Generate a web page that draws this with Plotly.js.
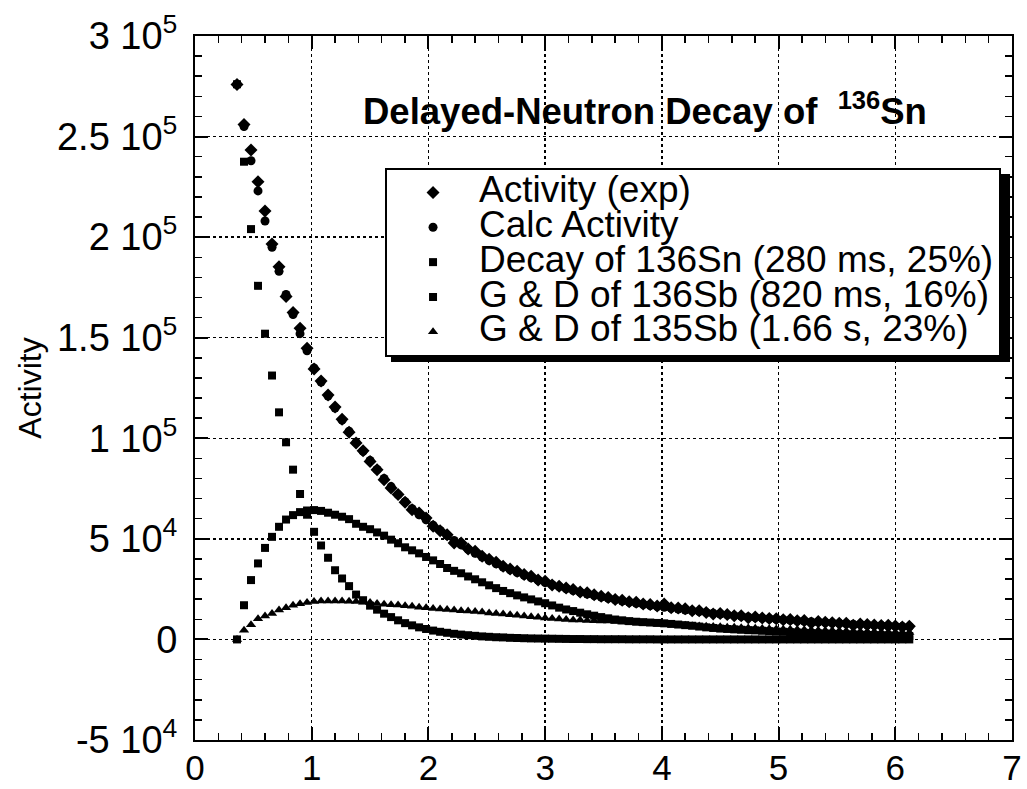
<!DOCTYPE html>
<html>
<head>
<meta charset="utf-8">
<script src="https://cdn.plot.ly/plotly-3.0.1.min.js"></script>
<style>html,body{margin:0;padding:0;background:#fff;}#chart{width:1027px;height:789px;}</style>
</head>
<body>
<div id="chart"></div>
<script>
// time (s)
var time = [0.36,0.42,0.48,0.54,0.60,0.66,0.72,0.78,0.84,0.90,0.96,1.02,1.08,1.14,1.20,1.26,1.32,1.38,1.44,1.50,
1.56,1.62,1.68,1.74,1.80,1.86,1.92,1.98,2.04,2.10,2.16,2.22,2.28,2.34,2.40,2.46,2.52,2.58,2.64,2.70,
2.76,2.82,2.88,2.94,3.00,3.06,3.12,3.18,3.24,3.30,3.36,3.42,3.48,3.54,3.60,3.66,3.72,3.78,3.84,3.90,
3.96,4.02,4.08,4.14,4.20,4.26,4.32,4.38,4.44,4.50,4.56,4.62,4.68,4.74,4.80,4.86,4.92,4.98,5.04,5.10,
5.16,5.22,5.28,5.34,5.40,5.46,5.52,5.58,5.64,5.70,5.76,5.82,5.88,5.94,6.00,6.06,6.12];

var activityExp = [275900,256000,243300,227500,213000,196600,185300,170500,162500,154700,144800,134500,128500,121500,115500,109500,103000,97600,93800,88500,
84400,79400,75300,72000,68200,64500,62900,60400,56300,54000,52100,48000,48000,45000,43800,41400,39800,38400,36400,35000,
33900,32300,31400,29600,28900,27000,26500,25600,24800,23600,23200,22200,21500,20800,19900,19500,18700,18500,17600,17400,
16600,17600,15800,15600,15200,14300,14200,13400,12700,12900,12400,11800,11800,10800,11200,10700,10400,10300,9800,9900,
9300,9400,8200,8900,8600,8300,8100,8000,7100,7700,7400,7200,6900,7000,6700,6200,6600];

var activityCalc = [276000,255000,238000,223000,208000,195000,183000,171500,161500,152000,143500,135000,128000,121000,115000,109000,103500,98000,93500,89000,
84500,80000,76000,72000,68500,65000,62000,59500,56800,54200,51600,49200,47000,44800,42800,41000,39200,37600,36000,34600,
33200,31900,30600,29400,28300,27200,26200,25200,24300,23400,22600,21800,21100,20400,19700,19100,18500,17900,17300,16800,
16300,16000,15500,15100,14600,14200,13800,13400,13000,12600,12200,11800,11500,11200,10900,10600,10300,10000,9800,9500,
9300,9000,8800,8600,8400,8200,8000,7800,7600,7400,7200,7000,6900,6700,6600,6400,6300];

var decaySn136 = [276000,237500,204000,175800,152000,131200,112900,98000,84400,72300,62000,53500,46700,40600,34400,30300,26500,22300,19500,16800,
14800,12800,11100,9500,8100,7000,6000,5200,4400,3800,3300,2800,2400,2100,1800,1500,1300,1100,1000,800,
700,600,500,450,400,350,300,250,200,200,150,150,100,100,100,100,50,50,50,50,
0,0,0,0,0,0,0,0,0,0,0,0,0,0,0,0,0,0,0,0,
0,0,0,0,0,0,0,0,0,0,0,0,0,0,0,0,0];

var gdSb136 = [0,17000,29500,37800,45500,51000,56000,59600,61800,63300,64100,64300,63900,63000,62000,61000,59800,57500,56000,54800,
53200,51600,49600,47800,45800,44300,42800,41000,39300,37500,35500,34100,32900,31300,29900,28400,26900,25500,24100,23000,
21900,20900,19900,18900,18000,16900,15800,14900,14100,13300,12500,11800,11100,10500,9900,9500,9100,8800,8600,8400,
8200,8000,7700,7400,7100,6800,6400,6000,5700,5400,5200,5000,4800,4600,4500,4300,4100,3900,3800,3600,
3400,3300,3100,3000,2900,2800,2600,2500,2400,2300,2200,2100,2000,1900,1800,1800,1700];

var gdSb135 = [0,4600,7300,10300,11700,12900,14600,15800,17000,17800,18400,18800,19100,19100,19100,19100,19000,18800,18500,18300,
17900,17500,17300,17100,16800,16500,16000,15700,15400,15100,14900,14600,14300,14100,13900,13600,13200,12900,12600,12300,
12000,11600,11300,11000,10600,10400,10100,9900,9700,9600,9400,9300,9200,9100,8900,8700,8500,8300,8100,7900,
7700,7500,7300,7100,7000,6800,6700,6500,6400,6300,6100,6000,5800,5700,5600,5400,5300,5200,5100,5000,
4900,4800,4700,4600,4500,4400,4300,4200,4100,4000,3900,3800,3700,3700,3600,3500,3400];

var seriesNames = ['Activity (exp)','Calc Activity','Decay of 136Sn (280 ms, 25%)','G & D of 136Sb (820 ms, 16%)','G & D of 135Sb (1.66 s, 23%)'];
var yTickVals = [-50000,0,50000,100000,150000,200000,250000,300000];
var yTickText = ['-5 10<sup>4</sup>','0','5 10<sup>4</sup>','1 10<sup>5</sup>','1.5 10<sup>5</sup>','2 10<sup>5</sup>','2.5 10<sup>5</sup>','3 10<sup>5</sup>'];

var FONT = 'Liberation Sans, Arial, Helvetica, sans-serif';
function lg(s){ return '<span style="font-size:37px">' + s + '</span>'; }

var traces = [
  {x: time, y: activityExp, name: lg(seriesNames[0]), mode: 'markers', type: 'scatter', marker: {symbol: 'diamond', size: 10, color: '#000'}},
  {x: time, y: activityCalc, name: lg(seriesNames[1]), mode: 'markers', type: 'scatter', marker: {symbol: 'circle', size: 9, color: '#000'}},
  {x: time, y: decaySn136, name: lg(seriesNames[2]), mode: 'markers', type: 'scatter', marker: {symbol: 'square', size: 8, color: '#000'}},
  {x: time, y: gdSb136, name: lg(seriesNames[3]), mode: 'markers', type: 'scatter', marker: {symbol: 'square', size: 8, color: '#000'}},
  {x: time, y: gdSb135, name: lg(seriesNames[4]), mode: 'markers', type: 'scatter', marker: {symbol: 'triangle-up', size: 9, color: '#000'}}
];

var axisCommon = {
  showline: true, linecolor: '#000', linewidth: 2, mirror: 'ticks',
  ticks: 'inside', ticklen: 13, tickwidth: 2, tickcolor: '#000',
  showgrid: true, gridcolor: '#000', gridwidth: 1.5, griddash: 'dot',
  zeroline: false
};

var layout = {
  width: 1027, height: 789,
  margin: {l: 195, r: 15, t: 36, b: 49, pad: 0},
  paper_bgcolor: '#fff', plot_bgcolor: '#fff',
  font: {family: FONT, color: '#000'},
  showlegend: true,
  xaxis: Object.assign({}, axisCommon, {
    range: [0, 7], tickmode: 'linear', tick0: 0, dtick: 1,
    tickfont: {family: FONT, size: 35, color: '#000'},
    ticklabelstandoff: -4,
    minor: {ticks: 'inside', ticklen: 7, tickwidth: 1.5, tickcolor: '#000', dtick: 0.2, tick0: 0, showgrid: false}
  }),
  yaxis: Object.assign({}, axisCommon, {
    range: [-50000, 300000], tickmode: 'array', tickvals: yTickVals, ticktext: yTickText,
    tickfont: {family: FONT, size: 38, color: '#000'},
    ticklabelstandoff: 8,
    minor: {ticks: 'inside', ticklen: 7, tickwidth: 1.5, tickcolor: '#000', dtick: 10000, tick0: 0, showgrid: false},
    title: {text: 'Activity', font: {family: FONT, size: 32, color: '#000'}, standoff: 6}
  }),
  legend: {
    x: 0.2326, y: 0.8125, xanchor: 'left', yanchor: 'top',
    bgcolor: '#fff', bordercolor: '#000', borderwidth: 2,
    font: {family: FONT, size: 24.5, color: '#000'},
    itemwidth: 82, tracegroupgap: 0
  },
  annotations: [{
    xref: 'paper', yref: 'paper', x: 0.5514, y: 0.897, xanchor: 'center', yanchor: 'middle',
    showarrow: false, text: '<b>Delayed-Neutron Decay of  <sup>136</sup>Sn</b>',
    font: {family: FONT, size: 36.5, color: '#000'}
  }],
  // drop shadow behind the legend box (lower-right offset)
  shapes: [{
    type: 'rect', xref: 'paper', yref: 'paper', layer: 'above',
    x0: 0.2399, x1: 0.9976, y0: 0.5369, y1: 0.8040,
    fillcolor: '#000', line: {width: 0}
  }]
};

Plotly.newPlot('chart', traces, layout, {displayModeBar: false, staticPlot: true});
</script>
</body>
</html>
